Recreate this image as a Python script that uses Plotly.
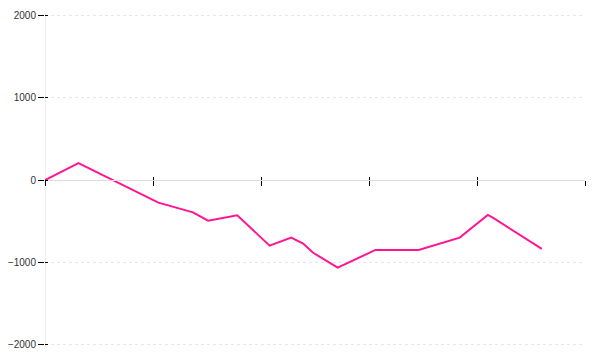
import plotly.graph_objects as go

x_vals = [0, 3.1, 10.5, 13.7, 15.1, 17.8, 20.8, 22.8, 23.9, 24.8, 27.1, 30.6, 34.6, 38.4, 41.0, 41.5, 46.0]
y_vals = [0, 206, -275, -392, -493, -428, -796, -699, -770, -880, -1063, -848, -848, -699, -424, -460, -836]
y_ticks = [-2000, -1000, 0, 1000, 2000]
x_ticks = [0, 10, 20, 30, 40, 50]

yr = [-2025, 2025]

fig = go.Figure()
fig.add_trace(go.Scatter(x=x_vals, y=y_vals, mode="lines",
                         line=dict(color="#ff1493", width=2), showlegend=False,
                         hoverinfo="skip"))
fig.add_trace(go.Scatter(x=[0], y=[0], xaxis="x2", yaxis="y2", mode="markers",
                         marker=dict(opacity=0), showlegend=False, hoverinfo="skip"))

fig.update_layout(
    width=600, height=360,
    margin=dict(l=45, r=15, t=13, b=13),
    paper_bgcolor="white", plot_bgcolor="white",
    font=dict(family="Liberation Sans", size=10, color="#333"),
    xaxis=dict(range=[0, 50], tickvals=x_ticks, showticklabels=False,
               ticks="outside", ticklen=5, tickcolor="#000", tickwidth=1,
               showline=True, linecolor="#ddd", linewidth=1,
               showgrid=False, zeroline=False, automargin=False,
               anchor="free", position=0.5),
    yaxis=dict(range=yr, tickvals=y_ticks,
               ticks="outside", ticklen=6, tickcolor="#000", tickwidth=1,
               showline=False,
               showgrid=True, gridcolor="#e6e6e6", griddash="dot", gridwidth=1,
               zeroline=False, automargin=False,
               tickfont=dict(family="Liberation Sans", size=10, color="#333")),
    xaxis2=dict(range=[0, 50], tickvals=x_ticks, showticklabels=False,
                ticks="inside", ticklen=3, tickcolor="#000", tickwidth=1,
                showline=False, showgrid=False, zeroline=False, automargin=False,
                overlaying="x", anchor="free", position=0.5),
    yaxis2=dict(range=yr, tickvals=y_ticks, showticklabels=False,
                ticks="inside", ticklen=3, tickcolor="#000", tickwidth=1,
                showline=False, showgrid=False, zeroline=False, automargin=False,
                overlaying="y", side="left", anchor="x"),
)
fig.add_vline(x=0, line=dict(color="#ddd", width=1), layer="below")

fig.write_html("out.html")
